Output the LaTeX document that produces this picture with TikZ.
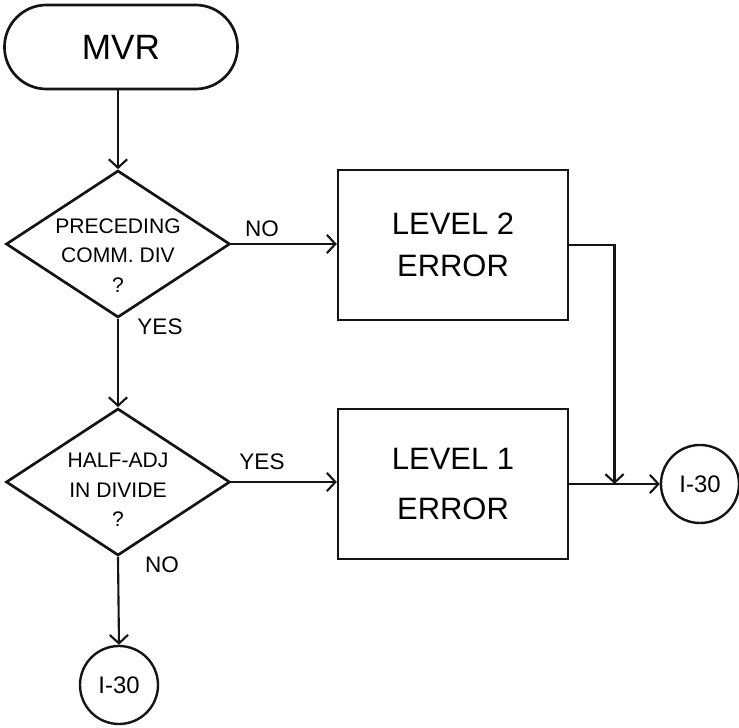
\documentclass[tikz,border=0pt]{standalone}
\usepackage{fontspec}
\setmainfont{Liberation Sans}
\usepackage{tikz}
\usetikzlibrary{shapes.geometric, arrows.meta, positioning, calc}
\definecolor{myink}{RGB}{20,20,20}
\tikzset{
  terminal/.style={rectangle, draw=myink, minimum width=5.825cm,
    minimum height=2.1cm, rounded corners=1.05cm, line width=1.9pt,
    font=\fontsize{25}{30}\selectfont},
  decision/.style={diamond, draw=myink, minimum width=5.6cm,
    minimum height=3.675cm, inner sep=0pt, line width=1.9pt},
  dtext/.style={align=center, font=\fontsize{15}{21}\selectfont},
  errbox/.style={rectangle, draw=myink, minimum width=5.75cm,
    minimum height=3.75cm, align=center, line width=1.7pt},
  connector/.style={circle, draw=myink, minimum size=1.95cm, inner sep=0pt,
    font=\fontsize{17}{20}\selectfont, line width=1.7pt},
  answer/.style={font=\fontsize{16}{19}\selectfont, inner sep=0pt},
  arrow/.style={-{Straight Barb[length=6pt, width=13pt]}, line width=1.5pt, color=myink},
  line/.style={line width=1.5pt, color=myink}
}

\begin{document}
\begin{tikzpicture}[x=0.025cm, y=-0.025cm]
  \useasboundingbox (0,0) rectangle (739,728);
  \node[terminal] (mvr) at (121,47) {MVR};
  \node[decision, label={[dtext, yshift=-0.28cm]center:PRECEDING\\COMM. DIV\\?}] (d1) at (118,244) {};
  \node[decision, label={[dtext, yshift=-0.2cm]center:HALF-ADJ\\IN DIVIDE\\?}] (d2) at (118,482) {};
  \node[errbox, font=\fontsize{22}{30}\selectfont] (b1) at (453,245) {LEVEL 2\\ERROR};
  \node[errbox, font=\fontsize{22}{36}\selectfont] (b2) at (453,484) {LEVEL 1\\ERROR};
  \node[connector] (c1) at (700,484) {I-30};
  \node[connector] (c2) at (119,685) {I-30};
  % branch labels
  \node[answer] (no1) at (262,229) {NO};
  \node[answer] (yes1) at (160,327) {YES};
  \node[answer] (yes2) at (262,462) {YES};
  \node[answer] (no2) at (162,565) {NO};
  \path ($(b1.east)!0.5!(c1.west)$) coordinate (jx);
  \coordinate (join) at (jx |- b2.east);
  \draw[arrow] (mvr.south -| d1.north) -- (d1.north);
  \draw[arrow] (d1.east) -- (d1.east -| b1.west);
  \draw[arrow] (d1.south) -- (d2.north);
  \draw[arrow] (d2.east) -- (d2.east -| b2.west);
  \draw[arrow] (b2.east) -- (c1.west);
  \draw[arrow] (b1.east) -| (join);
  \draw[arrow] (d2.south) -- (c2.north);
\end{tikzpicture}
\end{document}
